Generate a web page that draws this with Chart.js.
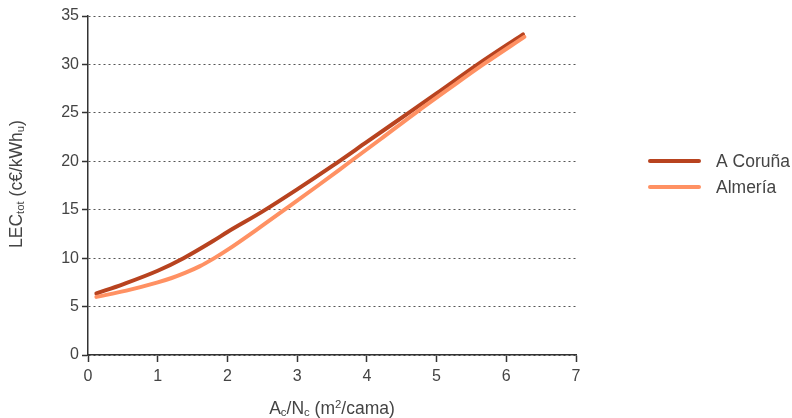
<!DOCTYPE html>
<html>
<head>
<meta charset="utf-8">
<script src="https://cdn.jsdelivr.net/npm/chart.js@4"></script>
<style>
  html, body { margin: 0; padding: 0; background: #fff; }
  #wrap { width: 792px; height: 418px; }
</style>
</head>
<body>
<div id="wrap"><canvas id="chart" width="792" height="418"></canvas></div>
<script>
// values
const seriesNames = ["A Coruña", "Almería"];
const coruñaX = [0.12, 0.5, 1.0, 1.37, 1.8, 2.0, 2.5, 3.0, 3.5, 4.0, 4.6, 5.0, 5.58, 6.24];
const coruñaY = [6.35, 7.3, 8.7, 10.0, 11.8, 12.7, 14.8, 17.1, 19.5, 22.0, 25.0, 27.0, 29.95, 33.1];
const almeriaX = [0.12, 0.55, 1.0, 1.2, 1.4, 1.6, 1.8, 2.0, 2.5, 2.8, 3.3, 3.75, 4.2, 4.69, 5.2, 5.67, 6.26];
const almeriaY = [6.0, 6.65, 7.5, 7.95, 8.5, 9.15, 9.95, 10.85, 13.35, 14.9, 17.5, 19.9, 22.3, 24.95, 27.6, 30.0, 32.85];
const xTicks = [0, 1, 2, 3, 4, 5, 6, 7];
const yTicks = [0, 5, 10, 15, 20, 25, 30, 35];
const colors = ["#b8431f", "#ff9163"];

const FONT = "'Liberation Sans', Arial, sans-serif";
const TEXT = "#444";

function toPoints(xs, ys) {
    return xs.map((x, i) => ({ x: x, y: ys[i] }));
}

// draw a run of text pieces, some sub/superscript
function drawRich(ctx, parts, x, y, size, align) {
    let widths = parts.map(p => {
        ctx.font = (p.s ? size * 0.65 : size) + "px " + FONT;
        return ctx.measureText(p.t).width;
    });
    let total = widths.reduce((a, b) => a + b, 0);
    let cx = align === "center" ? x - total / 2 : x;
    parts.forEach((p, i) => {
        ctx.font = (p.s ? size * 0.65 : size) + "px " + FONT;
        let dy = p.s === "sub" ? size * 0.12 : p.s === "sup" ? -size * 0.35 : 0;
        ctx.fillText(p.t, cx, y + dy);
        cx += widths[i];
    });
}

const extras = {
    id: "extras",
    afterDraw(chart) {
        let ctx = chart.ctx;
        ctx.save();
        ctx.fillStyle = TEXT;
        ctx.textBaseline = "alphabetic";
        ctx.textAlign = "left";

        // x title
        drawRich(ctx, [
            { t: "A" }, { t: "c", s: "sub" }, { t: "/N" }, { t: "c", s: "sub" },
            { t: " (m" }, { t: "2", s: "sup" }, { t: "/cama)" }
        ], 332, 414, 17.5, "center");

        // y title
        ctx.save();
        ctx.translate(22, 184);
        ctx.rotate(-Math.PI / 2);
        drawRich(ctx, [
            { t: "LEC" }, { t: "tot", s: "sub" }, { t: " (c€/kWh" }, { t: "u", s: "sub" }, { t: ")" }
        ], 0, 0, 17.5, "center");
        ctx.restore();

        // legend
        seriesNames.forEach((name, i) => {
            let y = 161 + i * 26;
            ctx.strokeStyle = colors[i];
            ctx.lineWidth = 4;
            ctx.lineCap = "round";
            ctx.beginPath();
            ctx.moveTo(650, y);
            ctx.lineTo(699, y);
            ctx.stroke();
            ctx.font = "17.5px " + FONT;
            ctx.textBaseline = "middle";
            ctx.fillText(name, 716, y + 1);
        });
        ctx.restore();
    }
};

new Chart(document.getElementById("chart"), {
    type: "line",
    data: {
        datasets: [
            {
                label: seriesNames[0],
                data: toPoints(coruñaX, coruñaY),
                borderColor: colors[0],
                borderWidth: 4,
                pointRadius: 0,
                cubicInterpolationMode: "monotone",
                borderCapStyle: "round"
            },
            {
                label: seriesNames[1],
                data: toPoints(almeriaX, almeriaY),
                borderColor: colors[1],
                borderWidth: 4,
                pointRadius: 0,
                cubicInterpolationMode: "monotone",
                borderCapStyle: "round"
            }
        ].reverse()
    },
    options: {
        responsive: false,
        animation: false,
        layout: { padding: { top: 16, right: 216, left: 0, bottom: 0 } },
        plugins: { legend: { display: false }, tooltip: { enabled: false } },
        scales: {
            x: {
                type: "linear",
                min: 0,
                max: 7,
                afterBuildTicks: s => { s.ticks = xTicks.map(v => ({ value: v })); },
                afterFit: s => { s.height = 63; },
                ticks: { color: TEXT, font: { family: FONT, size: 16 }, padding: 5 },
                grid: { drawOnChartArea: false, drawTicks: true, tickLength: 7, tickColor: "#333", tickWidth: 1.5 },
                border: { display: true, color: "#333", width: 1.5 }
            },
            y: {
                min: 0,
                max: 35,
                afterBuildTicks: s => { s.ticks = yTicks.map(v => ({ value: v })); },
                afterFit: s => { s.width = 88; },
                ticks: { color: TEXT, font: { family: FONT, size: 16 }, padding: 3 },
                grid: {
                    color: "#555",
                    lineWidth: 1,
                    tickBorderDash: [1, 0],
                    tickLength: 6,
                    tickColor: "#333",
                    tickWidth: 1.5
                },
                border: { display: true, color: "#333", width: 1.5, dash: [2, 3] }
            }
        }
    },
    plugins: [extras]
});
</script>
</body>
</html>
